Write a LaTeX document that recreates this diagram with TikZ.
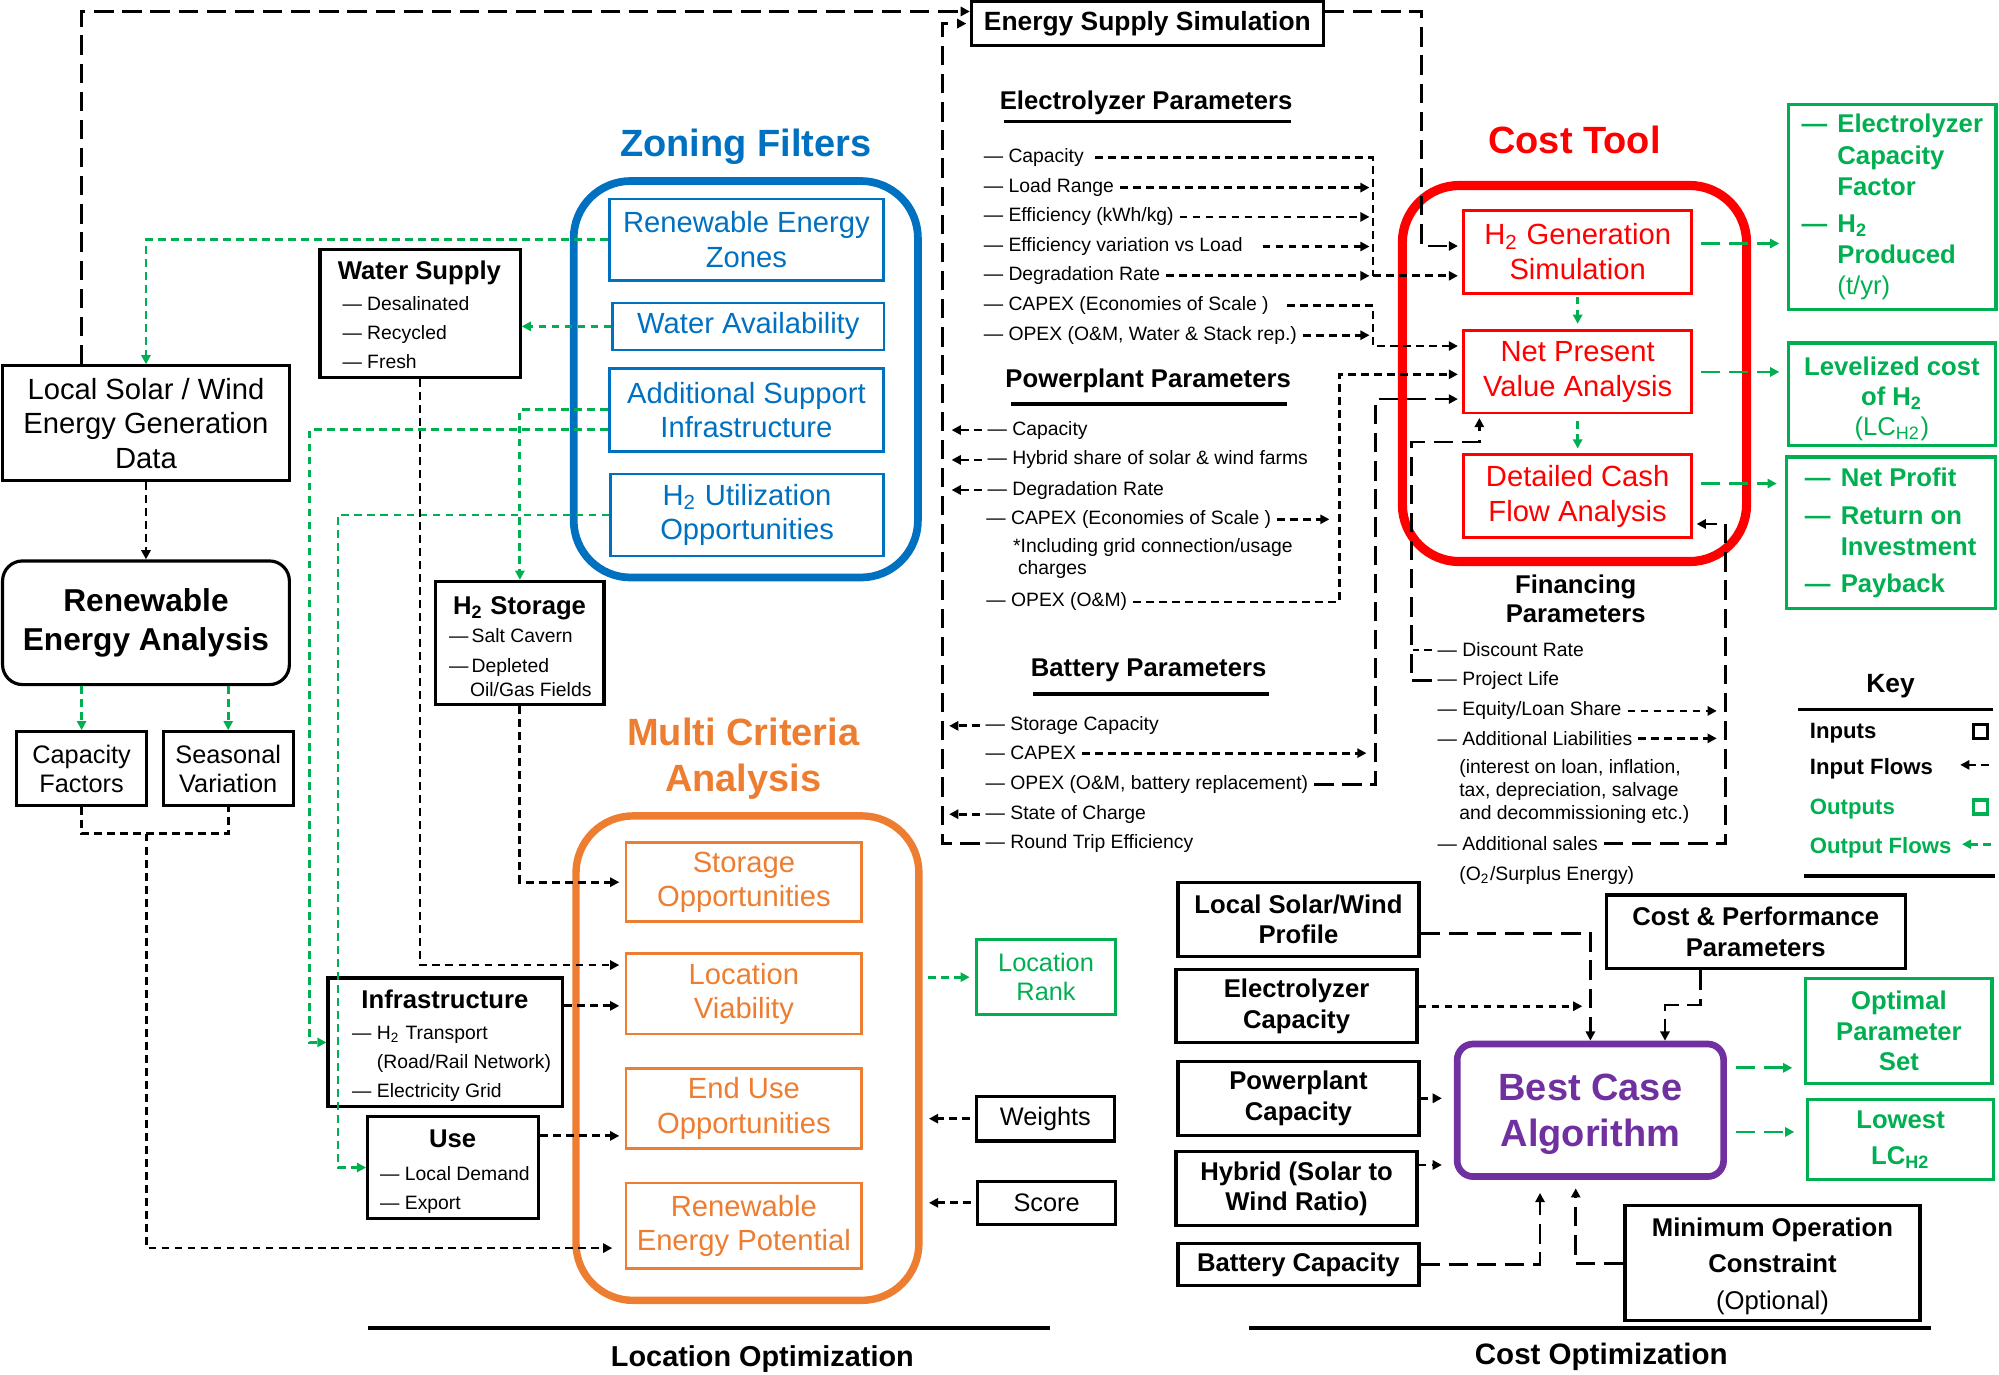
\documentclass[tikz,border=0pt]{standalone}
\usepackage{fontspec}
\setmainfont{Liberation Sans}
\usetikzlibrary{arrows.meta,calc}

\definecolor{zoneblue}{RGB}{0,112,192}
\definecolor{mcaorange}{RGB}{237,125,49}
\definecolor{costred}{RGB}{255,0,0}
\definecolor{outgreen}{RGB}{0,176,80}
\definecolor{algpurple}{RGB}{112,48,160}

\newcommand\pxu{0.0127487cm}
\newcommand\fTitle{\fontsize{10.8}{13}\selectfont\bfseries}
\newcommand\fBig{\fontsize{8.3}{9.8}\selectfont}
\newcommand\fHead{\fontsize{7.3}{8.7}\selectfont\bfseries}
\newcommand\fMid{\fontsize{7.2}{8.3}\selectfont}
\newcommand\fItem{\fontsize{5.5}{6.4}\selectfont}
\newcommand\fKey{\fontsize{6.3}{7.5}\selectfont\bfseries}
\newcommand\dsh{—\hspace{2.9pt}}
\newcommand\ndsh{\hphantom{—}\hspace{2.9pt}}

\begin{document}
\begin{tikzpicture}[x=\pxu, y=-\pxu,
    >={Triangle[length=2.6pt,width=2.6pt]},
    box/.style={draw, line width=0.9pt, inner sep=0pt, align=center},
    blu/.style={draw=zoneblue, line width=0.7pt, text=zoneblue, font=\fBig, inner sep=0pt, align=center},
    orn/.style={draw=mcaorange, line width=0.8pt, text=mcaorange, font=\fBig, inner sep=0pt, align=center},
    rd/.style={draw=costred, line width=0.8pt, text=costred, font=\fBig, inner sep=0pt, align=center},
    grn/.style={draw=outgreen, line width=0.9pt, text=outgreen, inner sep=0pt, align=center},
    bigrect/.style={rounded corners=0.57cm, line width=2.2pt, inner sep=0pt},
    itm/.style={font=\fItem, anchor=mid west, inner sep=1.5pt},
    hd/.style={font=\fHead, anchor=mid},
    flow/.style={line width=0.8pt, dash pattern=on 2.2pt off 1.5pt},
    lflow/.style={line width=0.8pt, dash pattern=on 5.5pt off 2.5pt},
    gflow/.style={flow, outgreen},
    glflow/.style={lflow, outgreen},
    uline/.style={line width=1.1pt}]

\useasboundingbox (0,0) rectangle (1568,1078);

% groups
\node[bigrect, draw=zoneblue, minimum width=270*\pxu, minimum height=311*\pxu] (zf) at (585,297.5) {};
\node[bigrect, draw=mcaorange, line width=2.1pt, minimum width=269*\pxu, minimum height=380*\pxu] (mca) at (586.3,830) {};
\node[bigrect, draw=costred, line width=2.6pt, minimum width=270*\pxu, minimum height=295*\pxu] (ct) at (1235,293) {};
\node[font=\fTitle, text=zoneblue] (zft) at (585,115) {Zoning Filters};
\node[font=\fTitle, text=mcaorange, align=center] (mcat) at (583,595) {Multi Criteria\\Analysis};
\node[font=\fTitle, text=costred] (ctt) at (1235,110) {Cost Tool};

% left column
\node[box, minimum width=225*\pxu, minimum height=90*\pxu, font=\fBig] (gen) at (114.5,332) {Local Solar / Wind\\Energy Generation\\Data};
\node[box, minimum width=225*\pxu, minimum height=97*\pxu, rounded corners=0.2cm, font=\fontsize{9}{10.9}\selectfont\bfseries] (rea) at (114.5,488.5) {Renewable\\Energy Analysis};
\node[box, minimum width=102*\pxu, minimum height=58*\pxu, font=\fMid] (cf) at (64,603) {Capacity\\Factors};
\node[box, minimum width=102*\pxu, minimum height=58*\pxu, font=\fMid] (sv) at (179,603) {Seasonal\\Variation};

\node[box, minimum width=157*\pxu, minimum height=100*\pxu] (ws) at (329.5,246) {};
\node[hd] (wst) at (329,212) {Water Supply};
\node[itm] (ws1) at (264,236) {— Desalinated};
\node[itm] (ws2) at (264,259) {— Recycled};
\node[itm] (ws3) at (264,282) {— Fresh};

\node[box, minimum width=132*\pxu, minimum height=96.5*\pxu] (hs) at (407.8,504.3) {};
\node[hd] (hst) at (407.5,474.5) {H\textsubscript{2} Storage};
\node[itm] (hs1) at (347.6,497) {—\,Salt Cavern};
\node[itm] (hs2) at (347.6,520.6) {—\,Depleted};
\node[itm] (hs3) at (364,538.8) {Oil/Gas Fields};

\node[box, minimum width=184*\pxu, minimum height=101*\pxu] (infra) at (349.3,817.7) {};
\node[hd] (inft) at (349,784) {Infrastructure};
\node[itm] (inf1) at (271.6,808) {— H\textsubscript{2} Transport};
\node[itm] (inf2) at (291,831) {(Road/Rail Network)};
\node[itm] (inf3) at (271.6,853.8) {— Electricity Grid};

\node[box, minimum width=134*\pxu, minimum height=80.5*\pxu] (use) at (355.4,915.8) {};
\node[hd] (uset) at (355,892.6) {Use};
\node[itm] (use1) at (293.5,919) {— Local Demand};
\node[itm] (use2) at (293.5,941.8) {— Export};

% zoning filters
\node[blu, minimum width=215*\pxu, minimum height=64*\pxu] (rez) at (585.5,188) {Renewable Energy\\Zones};
\node[blu, minimum width=213*\pxu, minimum height=37*\pxu] (wa) at (587,256) {Water Availability};
\node[blu, minimum width=215*\pxu, minimum height=65*\pxu] (asi) at (585.5,321.5) {Additional Support\\Infrastructure};
\node[blu, minimum width=214*\pxu, minimum height=64*\pxu] (huo) at (586,404) {H\textsubscript{2} Utilization\\Opportunities};

% multi criteria analysis
\node[orn, minimum width=185*\pxu, minimum height=62*\pxu] (so) at (583.5,692) {Storage\\Opportunities};
\node[orn, minimum width=185*\pxu, minimum height=63*\pxu] (locv) at (583.5,779.5) {Location\\Viability};
\node[orn, minimum width=185*\pxu, minimum height=63*\pxu] (euo) at (583.5,869.5) {End Use\\Opportunities};
\node[orn, minimum width=185*\pxu, minimum height=67*\pxu] (rep) at (583.5,961.5) {Renewable\\Energy Potential};
\node[grn, minimum width=109*\pxu, minimum height=59*\pxu, font=\fMid] (lr) at (820.5,766.5) {Location\\Rank};
\node[box, minimum width=108*\pxu, minimum height=35*\pxu, font=\fMid] (wt) at (820,877.5) {Weights};
\node[box, minimum width=108*\pxu, minimum height=34*\pxu, font=\fMid] (sc) at (821,943.5) {Score};

\draw[uline] (289,1042) -- (824,1042);
\node[font=\fontsize{8.2}{10}\selectfont\bfseries] (lopt) at (598,1066) {Location Optimization};

% parameters
\node[box, minimum width=276*\pxu, minimum height=35*\pxu, font=\fontsize{7.5}{9}\selectfont\bfseries] (esim) at (900,18.5) {Energy Supply Simulation};

\node[hd] (ept) at (899,79) {Electrolyzer Parameters};
\draw[uline] (787.5,95.3) -- (1012.6,95.3);
\node[itm] (ep1) at (767,120.3) {— Capacity};
\node[itm] (ep2) at (767,143.8) {— Load Range};
\node[itm] (ep3) at (767,166.8) {— Efficiency (kWh/kg)};
\node[itm] (ep4) at (767,190) {— Efficiency variation vs Load};
\node[itm] (ep5) at (767,213) {— Degradation Rate};
\node[itm] (ep6) at (767,236.6) {— CAPEX (Economies of Scale )};
\node[itm] (ep7) at (767,259.6) {— OPEX (O\&M, Water \& Stack rep.)};

\node[hd] (ppt) at (900.6,297) {Powerplant Parameters};
\draw[uline] (793,317) -- (1009.6,317);
\node[itm] (pp1) at (770,334) {— Capacity};
\node[itm] (pp2) at (770,357.4) {— Hybrid share of solar \& wind farms};
\node[itm] (pp3) at (770,381) {— Degradation Rate};
\node[itm] (pp4) at (769,404) {— CAPEX (Economies of Scale )};
\node[itm, anchor=west, align=left, font=\fontsize{5.5}{6.3}\selectfont] (pp5) at (790,438) {*Including grid connection/usage\\\hspace*{1.4pt}charges};
\node[itm] (pp6) at (769,468.8) {— OPEX (O\&M)};

\node[hd] (bpt) at (901,523) {Battery Parameters};
\draw[uline] (810,544.3) -- (995,544.3);
\node[itm] (bp1) at (768.5,566) {— Storage Capacity};
\node[itm] (bp2) at (768.5,588.7) {— CAPEX};
\node[itm] (bp3) at (768.5,612.3) {— OPEX (O\&M, battery replacement)};
\node[itm] (bp4) at (768.5,635.3) {— State of Charge};
\node[itm] (bp5) at (768.5,658.3) {— Round Trip Efficiency};

% cost tool
\node[rd, minimum width=179*\pxu, minimum height=65*\pxu] (h2g) at (1237.5,197.5) {H\textsubscript{2} Generation\\Simulation};
\node[rd, minimum width=179*\pxu, minimum height=64.5*\pxu] (npv) at (1237.5,291.75) {Net Present\\Value Analysis};
\node[rd, minimum width=179*\pxu, minimum height=65*\pxu] (dcf) at (1237.5,389.3) {Detailed Cash\\Flow Analysis};

\node[grn, minimum width=162.6*\pxu, minimum height=161*\pxu, font=\fontsize{7.3}{8.9}\selectfont\bfseries, align=left] (o1) at (1484.3,162.6) {\dsh Electrolyzer\\\ndsh Capacity\\\ndsh Factor\\[1.6pt]\dsh H\textsubscript{2}\\\ndsh Produced\\\ndsh{\mdseries (t/yr)}};
\node[grn, minimum width=162*\pxu, minimum height=80.6*\pxu, font=\fontsize{7.3}{8.5}\selectfont\bfseries] (o2) at (1484,309.3) {\rule{0pt}{8pt}Levelized cost\\of H\textsubscript{2}\\{\mdseries (LC\textsubscript{H2})}};
\node[grn, minimum width=164*\pxu, minimum height=119*\pxu, font=\fontsize{7.3}{8.7}\selectfont\bfseries, align=left] (o3) at (1483,418) {\dsh Net Profit\\[2.1pt]\dsh Return on\\\ndsh Investment\\[1.8pt]\dsh Payback};

\node[font=\fontsize{7.3}{8.3}\selectfont\bfseries, align=center] (fpt) at (1236,469.5) {Financing\\Parameters};
\node[itm] (fp1) at (1123,508) {— Discount Rate};
\node[itm] (fp2) at (1123,530.7) {— Project Life};
\node[itm] (fp3) at (1123,554.3) {— Equity/Loan Share};
\node[itm] (fp4) at (1123,577.3) {— Additional Liabilities};
\node[itm, anchor=west, align=left, font=\fontsize{5.5}{6.5}\selectfont] (fp5) at (1140,621) {(interest on loan, inflation,\\tax, depreciation, salvage\\and decommissioning etc.)};
\node[itm] (fp6) at (1123,660) {— Additional sales};
\node[itm] (fp7) at (1140,683) {(O\textsubscript{2}/Surplus Energy)};

% key
\node[font=\fontsize{7.5}{9}\selectfont\bfseries] (keyt) at (1483,538.4) {Key};
\draw[uline] (1410,556.5) -- (1563,556.5);
\node[font=\fKey, anchor=mid west, inner sep=1.5pt] (k1) at (1415,572) {Inputs};
\node[font=\fKey, anchor=mid west, inner sep=1.5pt] (k2) at (1415,600) {Input Flows};
\node[font=\fKey, anchor=mid west, inner sep=1.5pt, text=outgreen] (k3) at (1415,631.4) {Outputs};
\node[font=\fKey, anchor=mid west, inner sep=1.5pt, text=outgreen] (k4) at (1415,662.2) {Output Flows};
\node[draw, line width=0.9pt, minimum size=11*\pxu, inner sep=0pt] (ksq1) at (1553.8,574) {};
\node[draw=outgreen, line width=0.9pt, minimum size=11*\pxu, inner sep=0pt] (ksq2) at (1553.8,633) {};
\coordinate (ka1) at (1560,600);
\coordinate (ka2) at (1537.6,600);
\coordinate (ka3) at (1561.7,662.2);
\coordinate (ka4) at (1539,662.2);
\draw[flow,->] (ka1) -- (ka2);
\draw[gflow,->] (ka3) -- (ka4);
\draw[uline] (1415,687.4) -- (1565,687.4);

% cost optimization
\node[box, minimum width=189*\pxu, minimum height=57.6*\pxu, font=\fHead] (lp) at (1018.5,721.2) {Local Solar/Wind\\Profile};
\node[box, minimum width=189*\pxu, minimum height=57.5*\pxu, font=\fHead] (ec) at (1017,789.3) {Electrolyzer\\Capacity};
\node[box, minimum width=189*\pxu, minimum height=58*\pxu, font=\fHead] (pc) at (1018.5,861.5) {Powerplant\\Capacity};
\node[box, minimum width=189*\pxu, minimum height=58*\pxu, font=\fHead] (hy) at (1017,932.5) {Hybrid (Solar to\\Wind Ratio)};
\node[box, minimum width=189*\pxu, minimum height=33*\pxu, font=\fHead] (bc) at (1018.5,992) {Battery Capacity};
\node[box, minimum width=234.4*\pxu, minimum height=58*\pxu, font=\fHead] (cpp) at (1377.2,731) {Cost \& Performance\\Parameters};
\node[box, draw=algpurple, line width=1.9pt, rounded corners=0.16cm, minimum width=209*\pxu, minimum height=104*\pxu, font=\fTitle, text=algpurple] (bca) at (1247.5,870.9) {\rule{0pt}{10pt}Best Case\\Algorithm};
\node[grn, minimum width=146*\pxu, minimum height=82.5*\pxu, font=\fHead] (ops) at (1489.5,808.8) {Optimal\\Parameter\\Set};
\node[grn, minimum width=145.5*\pxu, minimum height=63*\pxu, font=\fontsize{7.3}{10}\selectfont\bfseries] (low) at (1490.8,894) {Lowest\\LC\textsubscript{H2}};
\node[box, minimum width=231.4*\pxu, minimum height=90*\pxu, font=\fontsize{7.3}{10.4}\selectfont\bfseries] (moc) at (1390.3,990.9) {\rule{0pt}{7pt}Minimum Operation\\Constraint\\{\mdseries (Optional)}};
\draw[uline] (979.6,1041.6) -- (1514.6,1041.6);
\node[font=\fontsize{8.4}{10}\selectfont\bfseries] (copt) at (1256,1064) {Cost Optimization};

% connectors: left part
\draw[flow,->] (gen.south) -- (rea.north);
\draw[gflow,->] (cf.north |- rea.south) -- (cf.north);
\draw[gflow,->] (sv.north |- rea.south) -- (sv.north);
\coordinate (cfsv) at (115,654);
\draw[flow] (cf.south) |- (cfsv) -| (sv.south);
\coordinate (repA) at ($(rep.west)+(0,17.5)$);
\draw[flow,->, shorten >=3.5pt] (cfsv) |- (repA);
\coordinate (esA) at ($(esim.west)+(0,-9.5)$);
\draw[lflow,->] ($(gen.north west)+(63,0)$) |- (esA);
\draw[gflow,->] (rez.west) -| (gen.north);
\draw[gflow,->] (wa.west) -- (wa.west -| ws.east);
\draw[gflow,->] (asi.west) -| (hs.north);
\coordinate (asiA) at ($(asi.west)+(0,15.5)$);
\draw[gflow,->] (asiA) -| ($(infra.west)+(-13,0)$) -- (infra.west);
\draw[gflow,->] (huo.west) -| ($(use.west)+(-22,0)$) -- (use.west);
\coordinate (lvA) at ($(locv.west)+(0,-22.5)$);
\draw[flow,->, shorten >=1.5pt] (ws.south) |- (lvA);
\draw[flow,->, shorten >=1.5pt] (hs.south) |- (so.west);
\coordinate (lvB) at ($(locv.west)+(0,9.5)$);
\draw[flow,->, shorten >=1.5pt] (infra.east |- lvB) -- (lvB);
\coordinate (euA) at ($(euo.west)+(0,21.5)$);
\draw[flow,->, shorten >=1.5pt] (use.east |- euA) -- (euA);
\draw[gflow,->, shorten <=1.5pt, shorten >=1.5pt] (mca.east |- lr.west) -- (lr.west);
\draw[flow,->, shorten <=1.5pt, shorten >=1.8pt] (wt.west) -- (wt.west -| mca.east);
\draw[flow,->, shorten <=1.5pt, shorten >=1.8pt] (sc.west) -- (sc.west -| mca.east);

% connectors: parameters
\coordinate (lbx) at (739,0);
\coordinate (ebx) at (1077,0);
\coordinate (pbx) at (1050.5,0);
\coordinate (bbx) at (1079,0);
\coordinate (fbx) at (1108.3,0);
\coordinate (rbx) at (1353.5,0);
\coordinate (h2gA) at ($(h2g.west)+(0,-4.5)$);
\coordinate (npvA) at ($(npv.west)+(0,-20.3)$);
\coordinate (npvB) at ($(npv.west)+(0,1.9)$);
\coordinate (npvC) at ($(npv.west)+(0,21.3)$);
\coordinate (npvE) at ($(npv.south west)+(13.5,0)$);
\coordinate (fturn) at ($(npv.south west)+(-39.7,21.6)$);
\coordinate (dcfA) at ($(dcf.east)+(0,21.7)$);

\draw[lflow,->, shorten >=1.2pt] ($(esim.east)+(0,-9.7)$) -| ($(h2gA)+(-32,0)$) -- (h2gA);
\draw[flow, shorten <=1.5pt] (ep1.east) -| (ebx |- ep5.east);
\foreach \i in {2,3,5,7}
  \draw[flow,->, shorten >=1pt] (ep\i.east) -- (ebx |- ep\i.east);
\draw[flow,->, shorten <=4pt, shorten >=1pt] (ep4.east) -- (ebx |- ep4.east);
\draw[flow,->, shorten >=1.2pt] (ebx |- ep5.east) -- (h2g.west |- ep5.east);
\draw[flow,->, shorten <=3.5pt, shorten >=1.2pt] (ep6.east) -| (ebx |- npvA) -- (npvA);

\foreach \i in {1,2,3}
  \draw[flow,->, shorten >=2.7pt] (pp\i.west) -- (lbx |- pp\i.west);
\draw[flow,->, shorten >=2.8pt] (pp4.east) -- (pbx |- pp4.east);
\draw[flow,->, shorten >=1.2pt] (pp6.east) -| (pbx |- npvB) -- (npvB);

\foreach \i in {1,4}
  \draw[flow,->, shorten >=2pt] (bp\i.west) -- (lbx |- bp\i.west);
\draw[flow,->, shorten >=2.6pt] (bp2.east) -- (bbx |- bp2.east);
\draw[lflow,->, shorten >=1.2pt] (bp3.east) -| (bbx |- npvC) -- (npvC);
\draw[lflow,->, shorten >=1pt] (bp5.west) -| (lbx |- esim.west) -- (esim.west);

\draw[flow] (fp1.west) -- (fbx |- fp1.west);
\draw[lflow,->, shorten >=1pt] (fp2.west) -| (fturn) -| (npvE);
\draw[flow,->, shorten >=2.5pt] (fp3.east) -- (rbx |- fp3.east);
\draw[flow,->, shorten >=2.5pt] (fp4.east) -- (rbx |- fp4.east);
\draw[lflow,->, shorten >=1pt] (fp6.east) -| (rbx |- dcfA) -- (dcfA);

% connectors: cost tool outputs
\draw[gflow,->, shorten <=0.6pt, shorten >=1.6pt] (h2g.south) -- (npv.north);
\draw[gflow,->, shorten <=2pt, shorten >=1.4pt] (npv.south) -- (dcf.north);
\coordinate (h2gB) at ($(h2g.east)+(0,-6.5)$);
\coordinate (dcfB) at ($(dcf.east)+(0,-10)$);
\draw[glflow,->, shorten <=2.2pt, shorten >=2.2pt] (h2gB) -- (o1.west |- h2gB);
\draw[glflow,->, shorten <=2.2pt, shorten >=2.2pt] (npv.east) -- (o2.west |- npv.east);
\draw[glflow,->, shorten <=2.2pt, shorten >=2.2pt] (dcfB) -- (o3.west |- dcfB);

% connectors: cost optimization
\coordinate (lpA) at ($(lp.east)+(0,11)$);
\coordinate (hyA) at ($(hy.east)+(0,-18.7)$);
\coordinate (bcaA) at ($(bca.east)+(0,-33.3)$);
\coordinate (bcaB) at ($(bca.east)+(0,17)$);
\draw[lflow,->] (lpA) -| (bca.north);
\draw[flow,->, shorten >=2.3pt] (ec.east) -- (ec.east -| bca.north);
\draw[lflow,->] ($(cpp.south)+(-43.4,0)$) |- ($(bca.north)+(58.5,-28)$) -- ($(bca.north)+(58.5,0)$);
\draw[flow,->, shorten >=3.4pt] (pc.east) -- (pc.east -| bca.west);
\draw[flow,->, shorten >=3.4pt] (hyA) -- (hyA -| bca.west);
\draw[lflow,->, shorten >=3.7pt] (bc.east) -| ($(bca.south)+(-39.5,0)$);
\draw[lflow,->, shorten >=2.4pt] (moc.west) -| ($(bca.south)+(-11.5,0)$);
\draw[glflow,->, shorten <=2.5pt, shorten >=3.4pt] (bcaA) -- (bcaA -| ops.west);
\draw[glflow,->, shorten <=2.5pt, shorten >=3.4pt] (bcaB) -- (bcaB -| low.west);

\end{tikzpicture}
\end{document}
